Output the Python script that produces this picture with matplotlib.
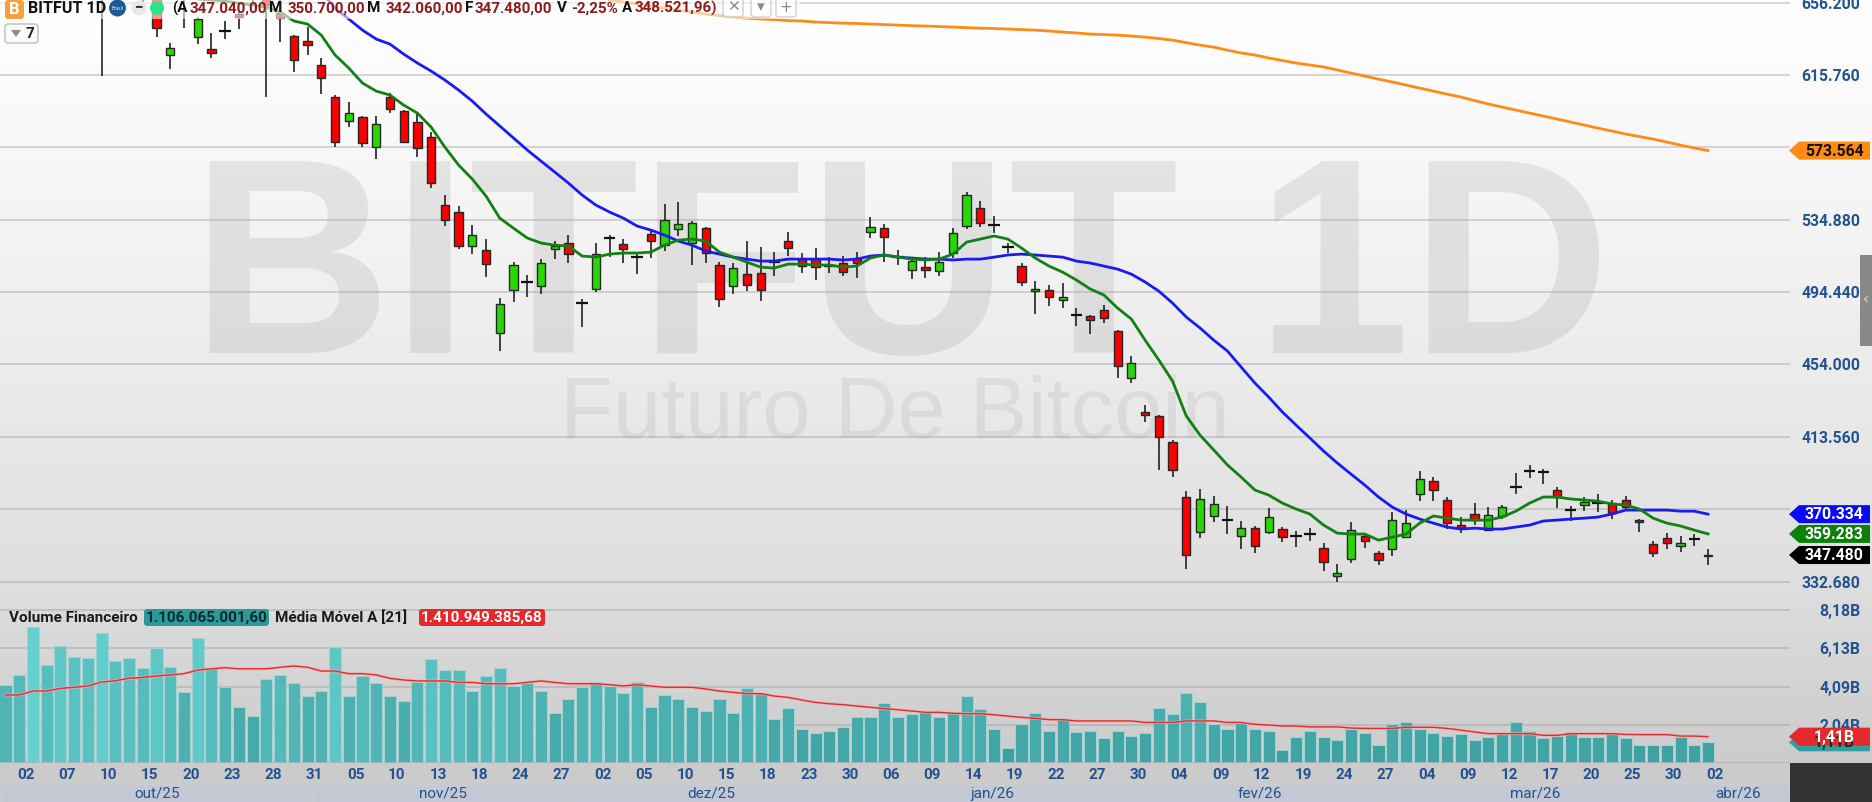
#!/usr/bin/python3

import numpy as np
import matplotlib
matplotlib.use('Agg')
import matplotlib.pyplot as plt
from matplotlib.colors import LinearSegmentedColormap
from matplotlib.patches import FancyBboxPatch, Polygon, Rectangle, Circle

plt.rcParams['font.family'] = ['Roboto', 'DejaVu Sans']

# candles, first one on screen is bar 7 (the older ones are above the top of the chart)
candle_start = 7
opens = [675, 672, 676, 668, 664, 627.0, 663, 637.0, 630.5, 640.4, 649.9, 664, 662, 650.4, 637.6, 634.8, 621.4, 603.5,
         590.1, 592.3, 575.5, 603.5, 595.6, 589.5, 581.1, 543.1, 539.2, 520.2, 517.9, 471.6, 495.6, 500.1, 497.8, 518.5,
         521.9, 488.3, 496.2, 524.7, 521.3, 514.0, 526.9, 520.7, 529.7, 521.9, 530.2, 509.6, 497.8, 504.5, 505.1, 511.2,
         523.0, 512.9, 512.9, 509.0, 510.7, 513.5, 528.0, 530.2, 514.0, 506.8, 508.4, 506.2, 516.3, 531.4, 541.4, 531.9,
         519.6, 509.0, 495.0, 495.6, 490.0, 481.6, 481.0, 484.4, 472.7, 446.4, 427.4, 425.2, 410.6, 379.9, 360.3, 369.3,
         367.0, 358.1, 362.5, 360.3, 362.0, 358.1, 359.2, 351.4, 335.7, 345.2, 358.1, 348.6, 350.8, 357.5, 381.6, 388.8,
         378.2, 364.2, 370.4, 361.4, 369.3, 385.5, 394.4, 393.9, 383.8, 372.6, 375.4, 376.5, 376.5, 378.2, 367.0, 353.6,
         356.9, 352.5, 356.4, 347.04]
closes = [670, 668, 671, 663, 642.0, 631.0, 660, 647.1, 628.2, 640.4, 648.2, 660, 654.9, 647.6, 624.2, 632.5, 614.1, 578.3,
          594.5, 577.8, 588.4, 596.8, 578.3, 575.0, 555.4, 534.7, 520.2, 526.3, 510.1, 487.8, 509.6, 500.1, 510.7, 520.2,
          515.7, 488.3, 515.7, 524.7, 518.5, 514.0, 523.0, 534.7, 532.5, 533.0, 516.3, 490.6, 507.9, 498.4, 495.6, 511.2,
          519.1, 509.0, 508.4, 509.0, 505.6, 510.7, 530.8, 525.2, 514.0, 511.8, 506.8, 511.2, 527.4, 548.7, 533.0, 531.9,
          519.6, 500.1, 496.1, 491.7, 491.7, 481.6, 478.8, 480.0, 453.1, 454.8, 425.7, 413.4, 395.0, 347.5, 378.8, 376.0,
          367.0, 362.5, 352.5, 368.7, 357.5, 358.1, 359.2, 343.5, 337.4, 361.4, 355.3, 344.7, 367.0, 365.3, 389.9, 383.8,
          365.3, 362.5, 367.0, 369.8, 374.3, 385.5, 394.4, 393.9, 379.9, 372.6, 377.1, 376.5, 370.9, 374.3, 365.9, 348.6,
          354.2, 354.2, 356.4, 347.48]
highs = [680, 678, 684, 672, 668, 633.7, 668, 648, 639.3, 646, 652, 668, 668, 657.7, 638.1, 642.6, 625.3, 604.6,
         600.7, 592.9, 592.9, 605.7, 596.2, 594.5, 583.9, 548.7, 542.5, 531.9, 524.1, 491.1, 511.2, 504.0, 512.9, 523.0,
         526.3, 490.6, 521.9, 526.3, 524.1, 516.3, 529.1, 543.7, 544.8, 534.2, 530.8, 511.2, 510.7, 523.0, 519.6, 516.8,
         528.0, 516.3, 519.1, 514.0, 514.6, 516.8, 536.4, 532.5, 517.9, 512.4, 514.0, 516.8, 530.2, 550.4, 545.3, 536.9,
         521.9, 510.7, 500.6, 498.4, 499.5, 485.5, 481.6, 487.2, 473.2, 458.7, 431.3, 425.7, 411.7, 383.2, 384.3, 380.4,
         374.8, 366.5, 363.7, 373.7, 363.1, 360.9, 362.5, 354.2, 342.4, 365.9, 359.7, 349.7, 371.5, 372.6, 394.4, 391.1,
         379.9, 368.7, 376.5, 374.3, 375.4, 393.3, 397.8, 395.5, 385.5, 374.8, 379.9, 381.6, 378.2, 380.4, 367.6, 355.3,
         359.7, 358.1, 359.2, 350.7]
lows = [615.2, 662, 664, 656, 637, 619.1, 642, 633.1, 625.3, 635.9, 641.5, 656, 603.5, 634.2, 617.5, 627.0, 605.2, 575.5,
        586.7, 575.5, 568.8, 594.5, 577.8, 569.9, 552.6, 531.4, 518.5, 515.7, 502.9, 461.5, 488.9, 491.7, 493.4, 512.9,
        510.7, 474.9, 494.5, 514.0, 510.7, 504.5, 513.5, 517.4, 525.8, 509.6, 510.7, 486.1, 493.4, 495.0, 489.4, 503.4,
        514.6, 505.1, 501.2, 505.1, 503.4, 502.3, 524.7, 511.2, 509.6, 501.7, 502.3, 503.4, 513.5, 529.7, 530.8, 527.4,
        516.3, 497.8, 482.2, 486.6, 485.5, 475.5, 471.0, 477.1, 446.4, 443.6, 421.8, 395.0, 391.0, 339.6, 357.0, 365.9,
        359.2, 350.8, 348.6, 359.2, 354.7, 351.9, 355.3, 338.5, 332.4, 343.0, 351.4, 341.9, 346.9, 357.0, 377.6, 377.6,
        362.0, 359.7, 364.2, 361.4, 367.6, 381.6, 390.5, 387.1, 373.7, 366.5, 372.0, 371.5, 367.6, 372.6, 360.3, 346.4,
        350.8, 349.1, 352.5, 342.06]

# moving averages
fast_start = 13
ma_fast = [660.5, 658.3, 657.7, 657.1, 656.0, 654.9, 653.8, 651.0, 646.0, 644.3, 638.1, 627.0, 619.7, 611.3, 606.8, 604.6,
           599.0, 594.5, 586.7, 575.5, 565.5, 557.6, 548.1, 535.8, 530.2, 524.7, 521.9, 520.7, 520.2, 514.6, 514.0, 515.7,
           516.3, 516.3, 516.8, 520.7, 523.5, 524.1, 523.0, 516.8, 514.0, 511.2, 508.4, 507.9, 510.1, 510.1, 509.6, 509.6,
           508.4, 509.0, 513.5, 515.2, 514.0, 512.9, 512.4, 512.9, 515.7, 522.4, 524.1, 525.8, 524.1, 519.1, 513.5, 509.0,
           505.6, 501.2, 496.2, 492.8, 485.5, 479.4, 467.6, 456.5, 444.7, 425.2, 414.5, 406.2, 397.8, 391.0, 383.8, 381.0,
           376.5, 373.2, 370.4, 364.2, 359.7, 359.2, 359.2, 355.8, 357.5, 359.2, 365.3, 369.3, 368.1, 367.0, 367.0, 367.0,
           368.7, 372.0, 376.5, 379.9, 379.9, 378.8, 378.2, 377.6, 376.0, 375.4, 373.2, 368.1, 365.3, 363.7, 361.4, 359.283]
slow_start = 22
ma_slow = [668.9, 662.2, 653.2, 647.1, 640.9, 635.9, 633.1, 627.5, 622.5, 618.0, 613.0, 607.4, 601.2, 594.0, 587.3, 580.6,
           573.9, 567.7, 561.6, 555.4, 548.7, 543.1, 539.2, 535.8, 531.4, 529.1, 526.3, 523.0, 520.7, 517.4, 515.7, 514.0,
           512.9, 511.8, 511.8, 512.9, 512.9, 512.9, 512.9, 512.4, 512.9, 514.6, 515.2, 514.0, 513.5, 512.9, 512.9, 512.4,
           512.9, 512.9, 514.0, 515.2, 515.7, 515.2, 514.6, 514.0, 511.8, 510.7, 509.0, 507.3, 504.5, 500.1, 495.0, 488.3,
           480.5, 474.4, 467.6, 461.5, 452.5, 443.6, 435.8, 427.4, 420.1, 412.9, 405.6, 398.9, 392.7, 386.6, 379.9, 374.3,
           370.4, 367.6, 365.3, 363.1, 362.0, 362.5, 362.0, 362.0, 363.1, 364.2, 366.5, 367.0, 367.6, 368.1, 368.7, 370.4,
           372.6, 372.6, 372.6, 372.6, 372.0, 372.0, 370.334]
long_start = 44
ma_long = [657.7, 656.6, 655.5, 654.3, 653.2, 652.1, 651.0, 649.9, 649.0, 648.2, 647.6, 647.1, 646.8, 646.2, 646.0, 645.4,
           645.1, 644.8, 644.6, 644.3, 644.0, 643.7, 643.4, 643.2, 642.9, 642.6, 642.3, 642.0, 641.8, 641.5, 641.2, 640.9,
           640.4, 639.8, 639.3, 638.7, 638.4, 638.1, 637.6, 637.0, 636.2, 635.3, 633.9, 632.5, 631.4, 629.7, 628.1, 627.0,
           625.3, 623.9, 622.5, 621.4, 620.3, 618.6, 616.9, 615.2, 613.5, 611.9, 610.2, 608.5, 606.8, 605.1, 603.5, 601.5,
           599.6, 597.9, 596.2, 594.5, 592.9, 591.2, 589.5, 587.8, 586.1, 584.5, 582.8, 581.4, 580.0, 578.3, 576.6, 575.0,
           573.564]

# volume in billions
volumes = [4.19, 4.72, 7.27, 5.26, 6.27, 5.67, 5.60, 6.93, 5.47, 5.60, 5.06, 6.13, 5.13, 3.80, 6.67, 5.06, 4.06, 2.99, 2.53,
           4.47, 4.72, 4.26, 3.60, 3.87, 6.20, 3.60, 4.65, 4.26, 3.60, 3.33, 4.33, 5.54, 4.99, 4.99, 3.87, 4.65, 5.06, 4.14,
           4.26, 3.87, 2.66, 3.40, 4.06, 4.33, 4.14, 3.73, 4.33, 2.99, 3.65, 3.40, 2.99, 2.80, 3.40, 2.66, 3.99, 3.73, 2.34,
           2.92, 1.80, 1.59, 1.73, 1.93, 2.46, 2.46, 3.19, 2.46, 2.60, 2.73, 2.46, 2.66, 3.60, 2.87, 1.80, 0.78, 2.07, 2.66,
           1.73, 2.34, 1.66, 1.73, 1.32, 1.73, 1.46, 1.59, 2.92, 2.60, 3.73, 3.26, 2.07, 1.80, 2.12, 1.80, 1.73, 0.71, 1.39,
           1.73, 1.39, 1.25, 1.80, 1.59, 0.98, 2.07, 2.19, 1.80, 1.59, 1.46, 1.53, 1.25, 1.39, 1.53, 2.19, 1.73, 1.32, 1.46,
           1.66, 1.39, 1.39, 1.59, 1.32, 0.98, 0.98, 0.98, 1.39, 0.98, 1.106]
vol_ma = [3.64, 3.64, 3.85, 3.85, 3.99, 4.05, 4.12, 4.33, 4.40, 4.53, 4.58, 4.65, 4.71, 4.78, 4.97, 5.04, 5.10, 5.04, 5.04,
          5.04, 5.12, 5.19, 5.12, 4.92, 4.92, 4.78, 4.78, 4.71, 4.53, 4.44, 4.39, 4.39, 4.39, 4.31, 4.31, 4.24, 4.24, 4.24,
          4.31, 4.39, 4.31, 4.24, 4.24, 4.24, 4.19, 4.12, 4.19, 4.12, 4.05, 4.05, 4.05, 3.96, 3.85, 3.78, 3.71, 3.71, 3.58,
          3.51, 3.37, 3.24, 3.17, 3.12, 3.05, 2.98, 2.91, 2.85, 2.78, 2.71, 2.71, 2.66, 2.64, 2.64, 2.58, 2.51, 2.44, 2.39,
          2.32, 2.32, 2.25, 2.25, 2.25, 2.25, 2.25, 2.17, 2.17, 2.17, 2.25, 2.25, 2.25, 2.17, 2.17, 2.07, 2.03, 1.98, 1.98,
          1.93, 1.93, 1.93, 1.87, 1.85, 1.85, 1.85, 1.91, 1.91, 1.91, 1.85, 1.76, 1.66, 1.57, 1.57, 1.57, 1.57, 1.48, 1.48,
          1.57, 1.57, 1.57, 1.57, 1.53, 1.52, 1.52, 1.52, 1.44, 1.44, 1.41]

price_ticks = [332.68, 373.12, 413.56, 454.0, 494.44, 534.88, 575.32, 615.76, 656.2]
price_labels = ['332.680', '', '413.560', '454.000', '494.440', '534.880', '', '615.760', '656.200']
vol_ticks = [2.045, 4.09, 6.13, 8.18]
vol_labels = ['2,04B', '4,09B', '6,13B', '8,18B']

day_labels = ['02', '07', '10', '15', '20', '23', '28', '31', '05', '10', '13', '18', '24', '27', '02', '05', '10', '15',
              '18', '23', '30', '06', '09', '14', '19', '22', '27', '30', '04', '09', '12', '19', '24', '27', '04', '09',
              '12', '17', '20', '25', '30', '02']
month_labels = ['out/25', 'nov/25', 'dez/25', 'jan/26', 'fev/26', 'mar/26', 'abr/26']
month_edges = [-0.3, 22.4, 41.4, 61.4, 82.3, 100.4, 122.4, 129.97]

header_parts = [(172, '(A', 'k'), (190, '347.040,00', 'r'), (269, 'M', 'k'), (288, '350.700,00', 'r'), (367, 'M', 'k'),
                (386, '342.060,00', 'r'), (465, 'F', 'k'), (475, '347.480,00', 'r'), (557, 'V', 'k'), (571, '-2,25%', 'r'),
                (622, 'A', 'k'), (635, '348.521,96)', 'r')]

W, H = 1872, 802
AXIS_X = 1790
PRICE_BOTTOM = 600
VOL_BOTTOM = 763
BLUE_TEXT = '#22528f'


def pane(top, bottom):
    ax = fig.add_axes([0, 1 - bottom / H, AXIS_X / W, (bottom - top) / H])
    ax.patch.set_alpha(0)
    for s in ax.spines.values():
        s.set_visible(False)
    ax.set_xlim(-0.4, 129.97)
    ax.set_xticks([])
    return ax


def right_labels(ax, ticks, labels):
    ax.yaxis.tick_right()
    ax.set_yticks(ticks)
    ax.set_yticklabels(labels, fontsize=11.3, color=BLUE_TEXT, fontweight='bold', ha='right')
    ax.tick_params(axis='y', length=0, pad=50.5)
    ax.hlines(ticks, -0.4, 129.97, color='#999999', lw=1.3, alpha=0.42, zorder=1)


def tag(ax, value, text, color, text_color, y_shift=0):
    y = ov.transData.inverted().transform(ax.transData.transform((0, value)))[1] + y_shift
    pts = [(1789, y), (1799, y - 9), (1870, y - 9), (1870, y + 9), (1799, y + 9)]
    ov.add_patch(Polygon(pts, closed=True, fc=color, ec='none', zorder=5))
    ov.text(1834, y + 0.5, text, color=text_color, fontsize=11.3, fontweight='bold', ha='center', va='center', zorder=6)


fig = plt.figure(figsize=(W / 100, H / 100), dpi=100)

# background with the page gradient and the big watermark
bg = fig.add_axes([0, 0, 1, 1])
bg.set_xlim(0, W)
bg.set_ylim(H, 0)
bg.axis('off')
cmap_bg = LinearSegmentedColormap.from_list('bg', [(0, '#ffffff'), (0.2, '#f7f7f7'), (0.45, '#ececec'), (0.72, '#dfdfdf'),
                                                   (0.95, '#cccccc'), (1, '#cbcbcb')])
bg.imshow(np.linspace(0, 1, 256).reshape(-1, 1), extent=(0, W, VOL_BOTTOM + 39, 0), aspect='auto', cmap=cmap_bg, zorder=0)
bg.text(901, 353, 'BITFUT 1D', fontsize=200, fontweight='bold', family='Liberation Sans', color='k', alpha=0.075,
        ha='center', va='baseline')
bg.text(895, 438, 'Futuro De Bitcoin', fontsize=62.5, family='Liberation Sans', color='k', alpha=0.06,
        ha='center', va='baseline')

# price pane
ax = pane(0, PRICE_BOTTOM)
ax.set_ylim(322.34, 657.74)
right_labels(ax, price_ticks, price_labels)

for k in range(len(opens)):
    x = candle_start + k
    o, c, h, l = opens[k], closes[k], highs[k], lows[k]
    ax.vlines(x, l, h, color='#222222', lw=1.2, zorder=2)
    if o == c:
        ax.hlines(o, x - 0.42, x + 0.42, color='#111111', lw=1.6, zorder=3)
    else:
        ax.bar(x, abs(c - o), bottom=min(o, c), width=0.6, color='#27d805' if c > o else '#fb0000',
               edgecolor='#262626', linewidth=1.0, zorder=3)

ax.plot(np.arange(len(ma_long)) + long_start, ma_long, color='#ff8a14', lw=2.0, zorder=4)
ax.plot(np.arange(len(ma_slow)) + slow_start, ma_slow, color='#1a1af5', lw=2.0, zorder=4)
ax.plot(np.arange(len(ma_fast)) + fast_start, ma_fast, color='#128012', lw=2.0, zorder=5)

# volume pane
vax = pane(PRICE_BOTTOM, VOL_BOTTOM)
vax.set_ylim(0, 8.72)
right_labels(vax, vol_ticks, vol_labels)
cmap_vol = LinearSegmentedColormap.from_list('vol', ['#3a9d9d', '#4db0b0', '#64d0d0'])
vax.bar(np.arange(len(volumes)), volumes, width=0.88, color=cmap_vol(np.array(volumes) / 7.3),
        edgecolor='#a5d2d2', linewidth=0.7, zorder=2)
vax.plot(np.arange(len(vol_ma)), vol_ma, color='#f3b0b0', lw=2.2, alpha=0.7, zorder=3)
vax.plot(np.arange(len(vol_ma)), vol_ma, color='#e8282c', lw=1.0, zorder=4)
vax.axhline(0, color='#b5b5b5', lw=1.2, zorder=5)

# day labels and month bands
dax = pane(VOL_BOTTOM, H)
dax.set_ylim(39, 0)
dax.set_yticks([])
for n, lab in enumerate(day_labels):
    dax.text(1.5 + 3 * n, 12, lab, color=BLUE_TEXT, fontsize=11, fontweight='bold', ha='center', va='center')
for n, lab in enumerate(month_labels):
    left, right = month_edges[n], month_edges[n + 1]
    dax.add_patch(Rectangle((left + 0.07, 23), right - left - 0.14, 16, fc='#c3c8d4', ec='none'))
    dax.text((left + right) / 2, 31, lab, color=BLUE_TEXT, fontsize=11, ha='center', va='center')

# overlay in pixel coordinates: header, legends, value tags
ov = fig.add_axes([0, 0, 1, 1])
ov.set_xlim(0, W)
ov.set_ylim(H, 0)
ov.axis('off')
ov.patch.set_alpha(0)

ov.add_patch(Rectangle((0, 0), 800, 19, fc='white', ec='none', alpha=0.58, zorder=1))
ov.add_patch(FancyBboxPatch((5, 0), 19, 19, boxstyle='round,pad=0,rounding_size=3', fc='#f9a03c', ec='none', zorder=2))
ov.text(14.5, 9.5, 'B', color='white', fontsize=12, fontweight='bold', ha='center', va='center', zorder=3)
ov.text(28, 8.5, 'BITFUT 1D', color='#111111', fontsize=11.6, fontweight='bold', ha='left', va='center', zorder=3)
ov.add_patch(Circle((117.5, 8), 8.5, fc='#1b5c96', ec='none', zorder=2))
ov.text(117.5, 8, 'Brasil', color='#cfe0ee', fontsize=3.4, ha='center', va='center', zorder=3)
ov.add_patch(Circle((139, 8), 7.5, fc='#e8e8e8', ec='none', zorder=2))
ov.text(139, 7.5, '−', color='#222222', fontsize=11, fontweight='bold', ha='center', va='center', zorder=3)
ov.add_patch(Circle((157, 8), 7, fc='#2fe283', ec='none', zorder=2))
for px, s, kind in header_parts:
    ov.text(px, 8.5, s, color='#111111' if kind == 'k' else '#8c1c1c', fontsize=10.9, fontweight='bold',
            ha='left', va='center', zorder=3)
for bx, sym in [(723, '✕'), (751, '▾'), (776, '+')]:
    ov.add_patch(FancyBboxPatch((bx, -4), 20, 21, boxstyle='round,pad=0,rounding_size=3', fc='#ffffff', alpha=0.7,
                                ec='#bdbdbd', lw=1, zorder=2))
    ov.text(bx + 10, 7, sym, color='#8a8a8a', fontsize=11, family='DejaVu Sans', ha='center', va='center', zorder=3)

ov.add_patch(FancyBboxPatch((5, 24), 33, 19, boxstyle='round,pad=0,rounding_size=3', fc='#fbfbfb', ec='#bdbdbd', lw=1, zorder=2))
ov.add_patch(Polygon([(11, 30), (21, 30), (16, 37)], closed=True, fc='#8a8a8a', ec='none', zorder=3))
ov.text(30, 33.5, '7', color='#222222', fontsize=11, fontweight='bold', ha='center', va='center', zorder=3)

ov.text(9, 618, 'Volume Financeiro', color='#1a1a1a', fontsize=11, fontweight='bold', ha='left', va='center', zorder=3)
ov.add_patch(FancyBboxPatch((144, 609), 125, 17, boxstyle='round,pad=0,rounding_size=3', fc='#2a9a9a', ec='none', zorder=2))
ov.text(206.5, 618, '1.106.065.001,60', color='#0d2b2b', fontsize=11, fontweight='bold', ha='center', va='center', zorder=3)
ov.text(275, 618, 'Média Móvel A [21]', color='#1a1a1a', fontsize=11, fontweight='bold', ha='left', va='center', zorder=3)
ov.add_patch(FancyBboxPatch((419, 609), 126, 17, boxstyle='round,pad=0,rounding_size=3', fc='#e5282c', ec='none', zorder=2))
ov.text(482, 618, '1.410.949.385,68', color='white', fontsize=11, fontweight='bold', ha='center', va='center', zorder=3)

tag(ax, 573.564, '573.564', '#ff8a14', '#111111')
tag(ax, 370.334, '370.334', '#0a0afa', 'white')
tag(ax, 359.283, '359.283', '#0b800b', 'white')
tag(ax, 347.48, '347.480', '#000000', 'white')
tag(vax, 1.106, '1,11B', '#2f9f9f', '#123333')
tag(vax, 1.41, '1,41B', '#e5282c', 'white')

ov.add_patch(Rectangle((AXIS_X, VOL_BOTTOM), W - AXIS_X, H - VOL_BOTTOM, fc='#333333', ec='none', zorder=4))
ov.add_patch(Rectangle((1860, 255), 12, 91, fc='#888888', ec='none', zorder=4))
ov.text(1866, 300, '‹', color='#dddddd', fontsize=11, family='DejaVu Sans', ha='center', va='center', zorder=5)

fig.savefig('out.png', dpi=100)
